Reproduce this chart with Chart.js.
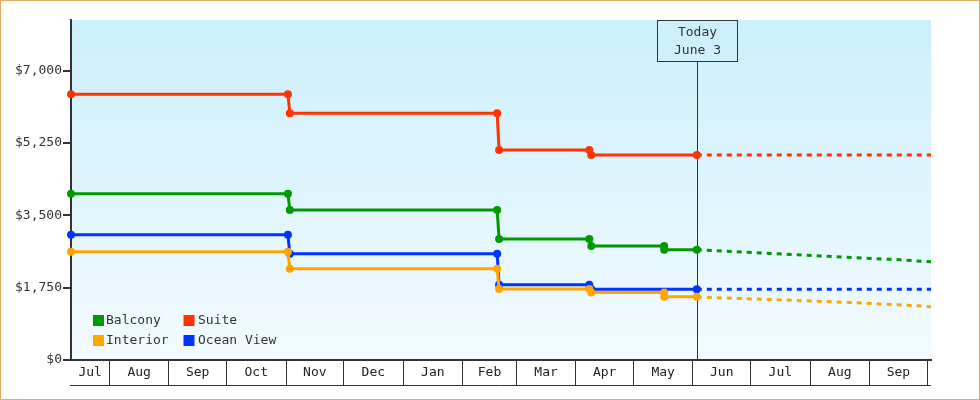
<!DOCTYPE html>
<html>
<head>
<meta charset="utf-8">
<script src="https://cdn.jsdelivr.net/npm/chart.js@4.4.0/dist/chart.umd.min.js"></script>
<style>
html,body{margin:0;padding:0;background:#fff;}
canvas{display:block;}
</style>
</head>
<body>
<canvas id="c" width="980" height="400"></canvas>
<script>
// ---------- DATA ----------
const seriesNames  = ['Balcony', 'Interior', 'Suite', 'Ocean View'];
const seriesColors = ['#009900', '#ffa500', '#ff3300', '#0033ff'];

const balconyDates  = ['2022-07-12','2022-11-02','2022-11-03','2023-02-19','2023-02-20','2023-04-08','2023-04-09','2023-05-17','2023-05-17','2023-06-03','2023-09-17','2023-09-28','2023-10-03'];
const balconyPrices = [4020, 4020, 3630, 3630, 2930, 2930, 2760, 2760, 2665, 2665, 2424, 2390, 2375];

const interiorDates  = ['2022-07-12','2022-11-02','2022-11-03','2023-02-19','2023-02-20','2023-04-08','2023-04-09','2023-05-17','2023-05-17','2023-06-03','2023-06-09','2023-07-15','2023-08-21','2023-09-26','2023-10-03'];
const interiorPrices = [2620, 2620, 2210, 2210, 1720, 1720, 1630, 1630, 1530, 1530, 1513, 1458, 1393, 1313, 1289];

const suiteDates  = ['2022-07-12','2022-11-02','2022-11-03','2023-02-19','2023-02-20','2023-04-08','2023-04-09','2023-06-03','2023-10-03'];
const suitePrices = [6430, 6430, 5970, 5970, 5080, 5080, 4960, 4960, 4960];

const oceanDates  = ['2022-07-12','2022-11-02','2022-11-03','2023-02-19','2023-02-20','2023-04-08','2023-04-09','2023-06-03','2023-10-03'];
const oceanPrices = [3030, 3030, 2570, 2570, 1820, 1820, 1710, 1710, 1710];

const monthStarts = ['2022-07-01','2022-08-01','2022-09-01','2022-10-01','2022-11-01','2022-12-01','2023-01-01','2023-02-01','2023-03-01','2023-04-01','2023-05-01','2023-06-01','2023-07-01','2023-08-01','2023-09-01','2023-10-01'];
const monthLabels = ['Jul','Aug','Sep','Oct','Nov','Dec','Jan','Feb','Mar','Apr','May','Jun','Jul','Aug','Sep','Oct'];

const yTickValues = [0, 1750, 3500, 5250, 7000];
const yMaxValue = 8225;

const rangeStart = '2022-07-12';
const rangeEnd   = '2023-10-03';
const todayDate  = '2023-06-03';
const todayLines = ['Today', 'June 3'];

// ---------- HELPERS ----------
const ORIGIN = Date.UTC(2022, 6, 1);
function dayNum(s) {
  const [y, m, d] = s.split('-').map(Number);
  return (Date.UTC(y, m - 1, d) - ORIGIN) / 86400000;
}
const xMin = dayNum(rangeStart);
const xMax = dayNum(rangeEnd);
const todayDay = dayNum(todayDate);

const boundarySet = new Set();
const labelMap = new Map();
const xTicks = [];
monthStarts.forEach((s, i) => {
  const start = dayNum(s);
  if (start > xMin && start < xMax) { boundarySet.add(start); xTicks.push(start); }
  const next = i + 1 < monthStarts.length ? dayNum(monthStarts[i + 1]) : start + 31;
  const a = Math.max(start, xMin), b = Math.min(next, xMax);
  if (b - a >= 10) { const mid = (a + b) / 2; labelMap.set(mid, monthLabels[i]); xTicks.push(mid); }
});
xTicks.sort((a, b) => a - b);

const seriesDates  = [balconyDates, interiorDates, suiteDates, oceanDates];
const seriesPrices = [balconyPrices, interiorPrices, suitePrices, oceanPrices];

Chart.defaults.font.family = "'DejaVu Sans Mono', monospace";
Chart.defaults.font.size = 13;
Chart.defaults.color = '#333';

const datasets = seriesNames.map((name, i) => ({
  label: name,
  data: seriesDates[i].map((d, j) => ({ x: dayNum(d), y: seriesPrices[i][j] })),
  borderColor: seriesColors[i],
  backgroundColor: seriesColors[i],
  borderWidth: 3,
  fill: false,
  tension: 0,
  pointRadius: c => (c.parsed && c.parsed.x > todayDay + 0.01) ? 0 : 4,
  pointBorderWidth: 0,
  pointHoverRadius: 0,
  segment: { borderDash: c => c.p0.parsed.x >= todayDay - 0.01 ? [5, 5] : undefined },
  clip: { left: 6, top: 6, right: 0, bottom: 6 }
}));

// ---------- PLUGINS ----------
const backgroundPlugin = {
  id: 'bg',
  beforeDraw(chart) {
    const { ctx, chartArea: a } = chart;
    ctx.save();
    ctx.fillStyle = '#ffffff';
    ctx.fillRect(0, 0, chart.width, chart.height);
    const g = ctx.createLinearGradient(0, a.top, 0, a.bottom);
    g.addColorStop(0, '#cbeffc');
    g.addColorStop(1, '#f3fbff');
    ctx.fillStyle = g;
    ctx.fillRect(a.left, a.top, a.right - a.left, a.bottom - a.top);
    ctx.restore();
  },
  afterDraw(chart) {
    const { ctx, chartArea: a } = chart;
    ctx.save();
    ctx.strokeStyle = '#333';
    ctx.lineWidth = 1;
    ctx.beginPath();
    ctx.moveTo(a.left - 1, a.bottom + 25.5);
    ctx.lineTo(a.right, a.bottom + 25.5);
    ctx.stroke();
    ctx.strokeStyle = '#e8a964';
    ctx.strokeRect(0.5, 0.5, chart.width - 1, chart.height - 1);
    ctx.restore();
  }
};

const todayPlugin = {
  id: 'today',
  beforeDatasetsDraw(chart) {
    const { ctx, chartArea: a, scales } = chart;
    const x = Math.round(scales.x.getPixelForValue(todayDay)) + 0.5;
    const boxTop = a.top + 0.5, boxH = 41, boxW = 80;
    ctx.save();
    ctx.strokeStyle = '#333';
    ctx.lineWidth = 1;
    ctx.beginPath();
    ctx.moveTo(x, boxTop + boxH);
    ctx.lineTo(x, a.bottom);
    ctx.stroke();
    ctx.strokeRect(x - boxW / 2, boxTop, boxW, boxH);
    ctx.fillStyle = '#333';
    ctx.font = "13px 'DejaVu Sans Mono', monospace";
    ctx.textAlign = 'center';
    ctx.textBaseline = 'middle';
    ctx.fillText(todayLines[0], x, boxTop + 12);
    ctx.fillText(todayLines[1], x, boxTop + 30);
    ctx.restore();
  }
};

const legendPlugin = {
  id: 'insideLegend',
  afterDatasetsDraw(chart) {
    const { ctx, chartArea: a } = chart;
    ctx.save();
    ctx.font = "13px 'DejaVu Sans Mono', monospace";
    ctx.textBaseline = 'middle';
    ctx.textAlign = 'left';
    chart.data.datasets.forEach((ds, i) => {
      const col = Math.floor(i / 2), row = i % 2;
      const bx = a.left + 22 + col * 90.5;
      const by = a.bottom - 45 + row * 20;
      ctx.fillStyle = ds.borderColor;
      ctx.fillRect(bx, by, 11, 11);
      ctx.fillStyle = '#333';
      ctx.fillText(ds.label, bx + 13 + col * 1.5, by + 6);
    });
    ctx.restore();
  }
};

// ---------- CHART ----------
new Chart(document.getElementById('c'), {
  type: 'line',
  data: { datasets },
  options: {
    responsive: false,
    animation: false,
    devicePixelRatio: 1,
    events: [],
    layout: { padding: { left: 0, top: 20, right: 49, bottom: 15 } },
    plugins: { legend: { display: false }, tooltip: { enabled: false } },
    scales: {
      x: {
        type: 'linear',
        min: xMin,
        max: xMax,
        afterBuildTicks: s => { s.ticks = xTicks.map(v => ({ value: v })); },
        afterFit: s => { s.height = 25; },
        grid: {
          drawOnChartArea: false,
          drawTicks: true,
          tickLength: 25,
          lineWidth: 1,
          color: c => (c.tick && boundarySet.has(c.tick.value)) ? '#333' : 'rgba(0,0,0,0)'
        },
        border: { display: true, color: '#333', width: 2 },
        ticks: {
          autoSkip: false, maxRotation: 0, minRotation: 0, padding: -20, color: '#222',
          callback: v => labelMap.get(v) || ''
        }
      },
      y: {
        min: 0,
        max: yMaxValue,
        afterBuildTicks: s => { s.ticks = yTickValues.map(v => ({ value: v })); },
        afterFit: s => { s.width = 71; },
        grid: { drawOnChartArea: false, drawTicks: true, tickLength: 8, lineWidth: 2, color: '#333' },
        border: { display: true, color: '#333', width: 2 },
        ticks: {
          padding: 1, color: '#333',
          callback: v => '$' + Number(v).toLocaleString('en-US')
        }
      }
    }
  },
  plugins: [backgroundPlugin, todayPlugin, legendPlugin]
});
</script>
</body>
</html>
